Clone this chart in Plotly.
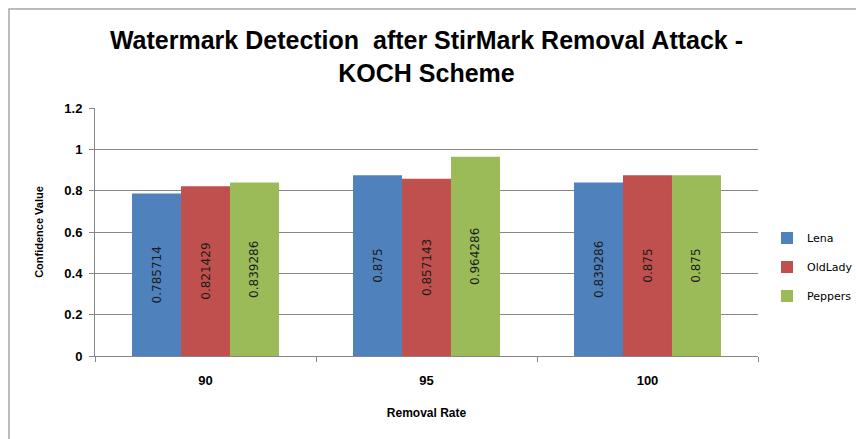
import plotly.graph_objects as go

# Detection confidence per removal rate, one series per test image
removal_rates = ["90", "95", "100"]
lena = [0.785714, 0.875, 0.839286]
old_lady = [0.821429, 0.857143, 0.875]
peppers = [0.839286, 0.964286, 0.875]

series = [
    ("Lena", lena, "#4F81BD"),
    ("OldLady", old_lady, "#C0504D"),
    ("Peppers", peppers, "#9BBB59"),
]

W, H = 856, 439
L, R, T, B = 95, 98, 108, 83
pw, ph = W - L - R, H - T - B

fig = go.Figure()
for name, vals, color in series:
    fig.add_trace(go.Bar(
        name=name,
        legendgroup=name,
        x=removal_rates,
        y=vals,
        marker=dict(color=color, line=dict(width=0)),
        text=[str(v) for v in vals],
        textposition="inside",
        insidetextanchor="middle",
        textangle=-90,
        textfont=dict(family="DejaVu Sans", size=12, color="#1b1b1b"),
        constraintext="none",
    ))

axis_font = dict(family="Liberation Sans", size=13, color="#000000")

fig.update_layout(
    width=W, height=H,
    margin=dict(l=L, r=R, t=T, b=B, autoexpand=False),
    paper_bgcolor="white",
    plot_bgcolor="white",
    barmode="group",
    bargap=0.335,
    bargroupgap=0,
    title=dict(
        text="<b>Watermark Detection  after StirMark Removal Attack -<br>KOCH Scheme</b>",
        x=0.5, xanchor="center", xref="paper",
        y=1 - 49 / H, yanchor="top",
        font=dict(family="Liberation Sans", size=25, color="#000000"),
    ),
    showlegend=True,
    legend=dict(
        x=(767 - L) / pw, xanchor="left",
        y=(356 - 267) / ph, yanchor="middle",
        font=dict(family="DejaVu Sans", size=11, color="#000000"),
        itemwidth=30,
        tracegroupgap=10,
        bgcolor="rgba(0,0,0,0)",
    ),
    xaxis=dict(
        type="category",
        showline=True, linecolor="#868686", linewidth=1,
        ticks="outside", tickson="boundaries", ticklen=5, tickcolor="#868686",
        tickfont=axis_font,
        ticklabelstandoff=12,
        title=dict(text="<b>Removal Rate</b>", font=dict(family="Liberation Sans", size=12, color="#000000"), standoff=22),
        tickprefix="<b>", ticksuffix="</b>",
        showgrid=False,
    ),
    yaxis=dict(
        range=[0, 1.2], dtick=0.2, tick0=0,
        showline=True, linecolor="#868686", linewidth=1,
        ticks="outside", ticklen=5, tickcolor="#868686",
        showgrid=True, gridcolor="#868686", gridwidth=1,
        zeroline=False,
        tickfont=axis_font,
        ticklabelstandoff=4,
        tickprefix="<b>", ticksuffix="</b>",
        title=dict(text="<b>Confidence Value</b>", font=dict(family="Liberation Sans", size=11, color="#000000"), standoff=18),
    ),
    shapes=[dict(
        type="rect", xref="paper", yref="paper",
        x0=(9 - L) / pw, x1=(W + 5 - L) / pw,
        y0=-(H + 5 - T - ph) / ph, y1=1 + (T - 9) / ph,
        line=dict(color="#A6A6A6", width=1.5),
        fillcolor="rgba(0,0,0,0)", layer="below",
    )],
)

fig.write_html("out.html")
